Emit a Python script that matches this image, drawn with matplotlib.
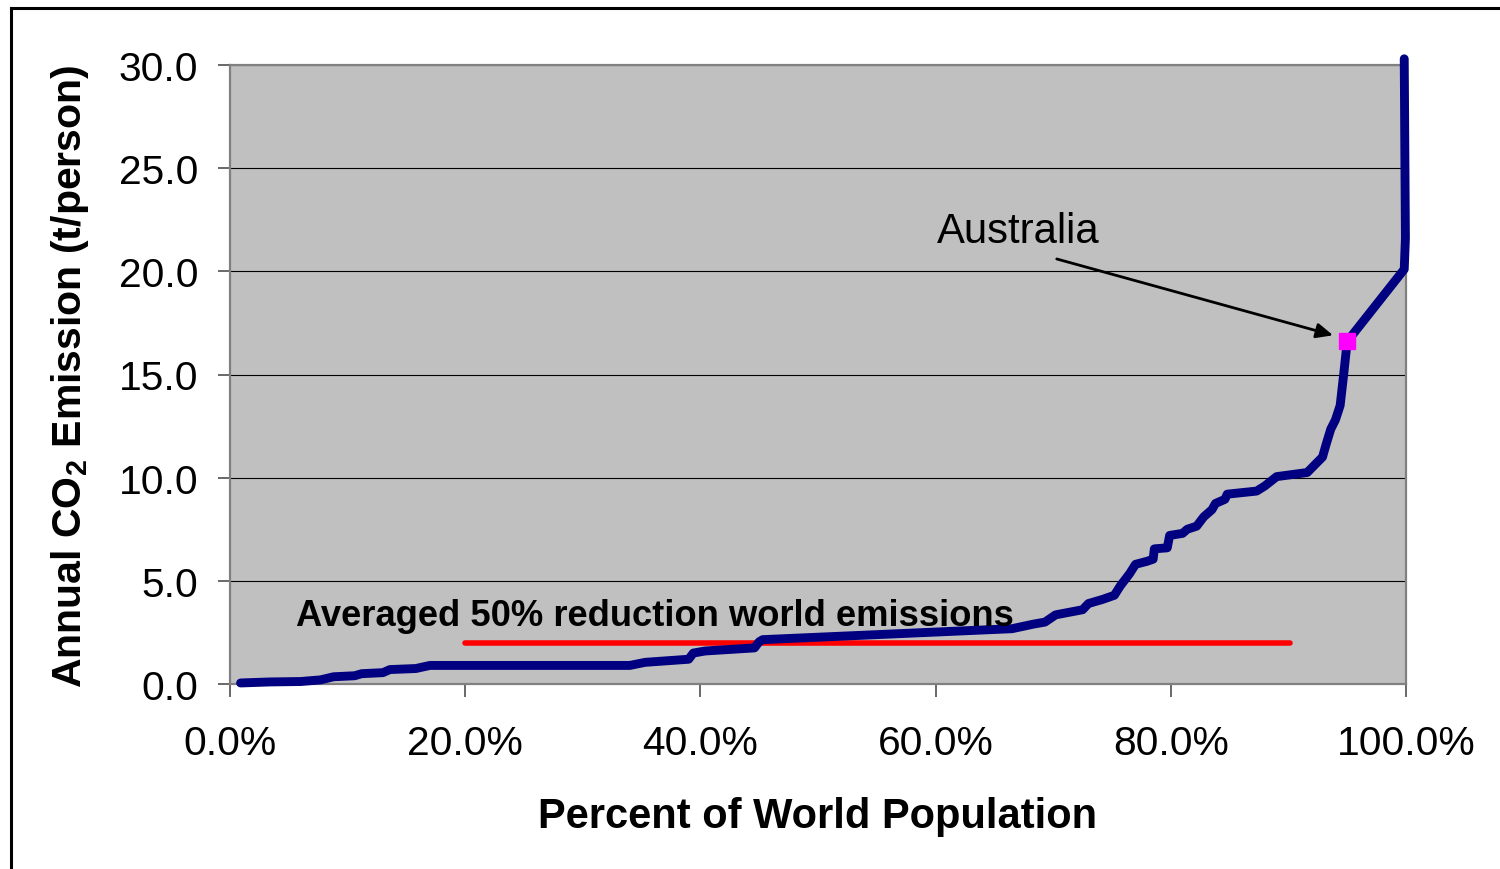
import matplotlib
matplotlib.use("Agg")
import matplotlib.pyplot as plt
from matplotlib.lines import Line2D

plt.rcParams['font.family'] = ['Liberation Sans', 'DejaVu Sans']
plt.rcParams['mathtext.fontset'] = 'custom'
plt.rcParams['mathtext.bf'] = 'Liberation Sans:bold'
plt.rcParams['mathtext.rm'] = 'Liberation Sans'

# Cumulative share of world population (%) vs per-capita emission (t/person)
pop_pct = [0.9, 3.4, 6.0, 7.7, 8.8, 10.6, 11.2, 13.0, 13.6, 15.8, 17.0, 34.0,
           35.3, 39.0, 39.4, 40.4, 44.6, 45.0, 45.3, 66.5, 68.3, 69.3, 70.2,
           72.5, 73.0, 74.2, 75.2, 75.7, 76.5, 77.0, 78.0, 78.5, 78.6, 79.7,
           79.9, 81.0, 81.4, 82.2, 82.8, 83.5, 83.8, 84.6, 84.8, 87.3, 88.0,
           89.0, 91.6, 92.9, 93.2, 93.6, 94.0, 94.4, 94.7, 95.0, 99.85, 99.95,
           99.85]
emission = [0.05, 0.1, 0.12, 0.2, 0.35, 0.4, 0.5, 0.55, 0.7, 0.75, 0.9, 0.9,
            1.05, 1.2, 1.5, 1.6, 1.75, 2.05, 2.15, 2.68, 2.9, 3.0, 3.35,
            3.6, 3.9, 4.1, 4.3, 4.75, 5.35, 5.8, 5.95, 6.05, 6.55, 6.6,
            7.2, 7.3, 7.5, 7.65, 8.1, 8.45, 8.75, 8.95, 9.2, 9.35, 9.6,
            10.05, 10.25, 11.0, 11.6, 12.35, 12.8, 13.5, 15.0, 16.6, 20.1, 21.6,
            30.3]

australia_pct = 95.0
australia_val = 16.6

target_x = [20.0, 90.1]
target_y = [2.0, 2.0]

xticks = [0, 20, 40, 60, 80, 100]
xtick_labels = ['0.0%', '20.0%', '40.0%', '60.0%', '80.0%', '100.0%']
yticks = [0, 5, 10, 15, 20, 25, 30]
ytick_labels = ['0.0', '5.0', '10.0', '15.0', '20.0', '25.0', '30.0']

fig = plt.figure(figsize=(15, 8.7), dpi=100)
ax = fig.add_axes([230/1500, 1 - 685/870, 1176/1500, 619/870])
ax.set_facecolor('#C0C0C0')

ax.set_xlim(0, 100)
ax.set_ylim(0, 30)

ax.set_yticks(yticks)
ax.set_yticklabels(ytick_labels)
ax.set_xticks(xticks)
ax.set_xticklabels(xtick_labels)

ax.grid(axis='y', color='black', linewidth=0.8)
ax.set_axisbelow(True)

for s in ax.spines.values():
    s.set_color('#808080')
    s.set_linewidth(1.6)

ax.tick_params(axis='both', direction='out', length=9, width=1.1, color='#404040',
               labelsize=29.3, labelcolor='black')
ax.tick_params(axis='x', pad=20)
ax.tick_params(axis='y', pad=14)

ax.plot(target_x, target_y, color='#FF0000', linewidth=4.0, solid_capstyle='round', zorder=3)
ax.plot(pop_pct, emission, color='#000080', linewidth=6.4,
        solid_capstyle='round', solid_joinstyle='round', clip_on=False, zorder=4)
ax.plot([australia_pct], [australia_val], marker='s', markersize=12,
        color='#FF00FF', linestyle='none', zorder=5)

ax.text(5.6, 2.86, 'Averaged 50% reduction world emissions', fontsize=26.2,
        fontweight='bold', ha='left', va='baseline', zorder=6)

ax.annotate('', xy=(93.8, 16.9), xytext=(70.3, 20.6),
            arrowprops=dict(arrowstyle='-|>,head_length=1.0,head_width=0.45',
                            color='black', lw=2.0, shrinkA=0, shrinkB=0))
ax.text(60.1, 21.4, 'Australia', fontsize=30.2, ha='left', va='baseline')

fig.text(818/1500, 1 - 828/870, 'Percent of World Population', fontsize=30,
         fontweight='bold', ha='center', va='baseline')
fig.text(70/1500, 1 - 376/870, r'Annual CO$_\mathbf{2}$ Emission (t/person)',
         fontsize=29.5, fontweight='bold', rotation=90, ha='center', va='center')

# outer frame
fig.add_artist(Line2D([11/1500, 11/1500], [0, 1 - 9/870], transform=fig.transFigure,
                      color='black', linewidth=2.2))
fig.add_artist(Line2D([11/1500, 1], [1 - 9/870, 1 - 9/870], transform=fig.transFigure,
                      color='black', linewidth=2.2))

fig.savefig('out.png', dpi=100, facecolor='white')
